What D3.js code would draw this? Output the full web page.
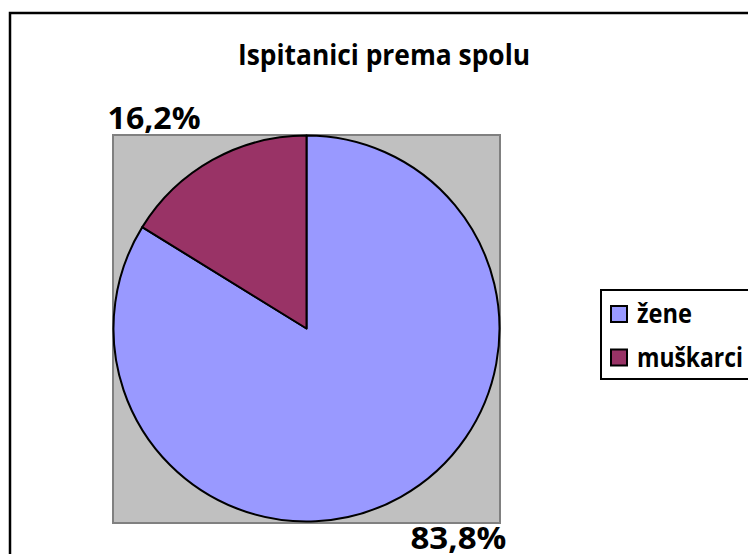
<!DOCTYPE html>
<html>
<head>
<meta charset="utf-8">
<script src="https://cdn.jsdelivr.net/npm/d3@7.9.0/dist/d3.min.js"></script>
<style>
  body { margin: 0; background: #fff; }
  svg text { font-family: "Open Sans", Lato, sans-serif; font-weight: bold; fill: #000; }
</style>
</head>
<body>
<svg id="chart" width="748" height="554"></svg>
<script>
const categories = ['žene', 'muškarci'];
const values = [83.8, 16.2];
const labels = ['83,8%', '16,2%'];
const colors = ['#9999FF', '#993366'];
const title = 'Ispitanici prema spolu';

const width = 748, height = 554;
const svg = d3.select('#chart');

// outer chart border (runs off right/bottom edges)
svg.append('rect')
    .attr('x', 10).attr('y', 13)
    .attr('width', 760).attr('height', 560)
    .attr('fill', '#fff')
    .attr('stroke', '#000')
    .attr('stroke-width', 2.5);

svg.append('text')
    .attr('x', 384).attr('y', 65)
    .attr('text-anchor', 'middle')
    .attr('font-size', 28)
    .attr('textLength', 292)
    .attr('lengthAdjust', 'spacingAndGlyphs')
    .text(title);

// plot area
const plot = { x: 113, y: 135, w: 387, h: 388 };
svg.append('rect')
    .attr('x', plot.x).attr('y', plot.y)
    .attr('width', plot.w).attr('height', plot.h)
    .attr('fill', '#C0C0C0')
    .attr('stroke', '#808080')
    .attr('stroke-width', 2);

const cx = plot.x + plot.w / 2;
const cy = plot.y + plot.h / 2 - 0.5;
const r = 193;

const pie = d3.pie().sort(null).value((d) => d);
const arcData = pie(values);
const arc = d3.arc().innerRadius(0).outerRadius(r);
const outerArc = d3.arc().innerRadius(r + 8).outerRadius(r + 8);

const g = svg.append('g').attr('transform', `translate(${cx},${cy})`);

g.selectAll('path')
    .data(arcData)
    .join('path')
    .attr('d', arc)
    .attr('fill', (d, i) => colors[i])
    .attr('stroke', '#000')
    .attr('stroke-width', 2)
    .attr('stroke-linejoin', 'round');

// data labels outside the pie, pushed clear of the plot area
const labelWidths = [96, 93];
arcData.forEach((d, i) => {
    let [px, py] = outerArc.centroid(d);
    let left = px < 0;
    let top = py < 0;
    let x = cx + px + (left ? -8 : 6);
    let y = top ? plot.y - 6 : plot.y + plot.h + 26;
    svg.append('text')
        .attr('x', x).attr('y', y)
        .attr('text-anchor', left ? 'end' : 'start')
        .attr('font-size', 30)
        .attr('textLength', labelWidths[i])
        .attr('lengthAdjust', 'spacingAndGlyphs')
        .text(labels[i]);
});

// legend
const legend = svg.append('g').attr('transform', 'translate(601,290)');
legend.append('rect')
    .attr('x', 0).attr('y', 0)
    .attr('width', 170).attr('height', 89)
    .attr('fill', '#fff')
    .attr('stroke', '#000')
    .attr('stroke-width', 2);

const legendWidths = [55, 106];
categories.forEach((c, i) => {
    let row = legend.append('g').attr('transform', `translate(0,${15 + i * 43.5})`);
    row.append('rect')
        .attr('x', 10).attr('y', 1)
        .attr('width', 16).attr('height', 16)
        .attr('fill', colors[i])
        .attr('stroke', '#000')
        .attr('stroke-width', 2);
    row.append('text')
        .attr('x', 36).attr('y', 18)
        .attr('font-size', 26)
        .attr('textLength', legendWidths[i])
        .attr('lengthAdjust', 'spacingAndGlyphs')
        .text(c);
});
</script>
</body>
</html>
